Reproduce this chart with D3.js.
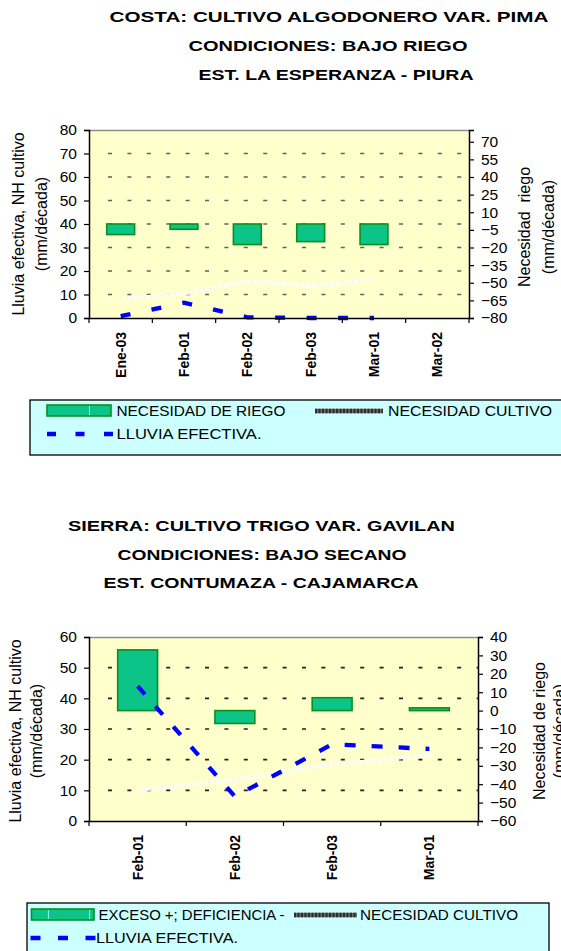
<!DOCTYPE html>
<html>
<head>
<meta charset="utf-8">
<script src="https://cdn.jsdelivr.net/npm/d3@7"></script>
<style>
  html, body { margin: 0; padding: 0; background: #ffffff; }
  svg { display: block; }
  text { font-family: "Liberation Sans", Arial, sans-serif; fill: #000; }
</style>
</head>
<body>
<svg id="chart" width="561" height="951"></svg>
<script>
// ---------- DATA ----------
// Chart 1 : Costa
const topTitle = ["COSTA: CULTIVO ALGODONERO VAR. PIMA", "CONDICIONES: BAJO RIEGO", "EST. LA ESPERANZA - PIURA"];
const topCategories = ["Ene-03", "Feb-01", "Feb-02", "Feb-03", "Mar-01", "Mar-02"];
const topRiego   = [-9, -4.5, -17.5, -15, -17.5, null];     // right axis (bars from 0)
const topCultivo = [8.3, 10.3, 15.8, 13.8, 16.5, null];     // left axis
const topLluvia  = [0.8, 6.5, 0.3, 0, 0, null];             // left axis
const topLeftTicks  = [0, 10, 20, 30, 40, 50, 60, 70, 80];
const topRightTicks = [-80, -65, -50, -35, -20, -5, 10, 25, 40, 55, 70];
const topLegend = ["NECESIDAD DE RIEGO", "NECESIDAD CULTIVO", "LLUVIA EFECTIVA."];
const topLeftTitle = ["Lluvia efectiva, NH cultivo", "(mm/década)"];
const topRightTitle = ["Necesidad  riego", "(mm/década)"];

// Chart 2 : Sierra
const botTitle = ["SIERRA: CULTIVO TRIGO VAR. GAVILAN", "CONDICIONES: BAJO SECANO", "EST. CONTUMAZA - CAJAMARCA"];
const botCategories = ["Feb-01", "Feb-02", "Feb-03", "Mar-01"];
const botRiego   = [33, -7, 7, 1.5];
const botCultivo = [10, 13.5, 18.5, 21.5];
const botLluvia  = [44, 8, 25, 23.5];
const botLeftTicks  = [0, 10, 20, 30, 40, 50, 60];
const botRightTicks = [-60, -50, -40, -30, -20, -10, 0, 10, 20, 30, 40];
const botLegend = ["EXCESO +; DEFICIENCIA -", "NECESIDAD CULTIVO", "LLUVIA EFECTIVA."];
const botLeftTitle = ["Lluvia efectiva, NH cultivo", "(mm/década)"];
const botRightTitle = ["Necesidad de riego", "(mm/década)"];

// ---------- STYLE ----------
const C = {
  plotBg: "#ffffcc", legendBg: "#ccffff",
  barFill: "#0cc487", barStroke: "#0a8f1e",
  blue: "#0000ff", cultivo: "#fdfdf3", grid: "#555555"
};
const FONT = '"Liberation Sans", Arial, sans-serif';

const svg = d3.select("#chart");

function drawChart(cfg) {
  const g = svg.append("g");
  const x = d3.scaleBand().domain(cfg.categories).range([cfg.x0, cfg.x1]).padding(0);
  const yL = d3.scaleLinear().domain(cfg.leftDomain).range([cfg.y1, cfg.y0]);
  const yR = d3.scaleLinear().domain(cfg.rightDomain).range([cfg.y1, cfg.y0]);
  const cx = c => x(c) + x.bandwidth() / 2;

  // titles
  cfg.title.forEach((t, i) => {
    g.append("text")
      .attr("x", cfg.titleX[i]).attr("y", cfg.titleY[i])
      .attr("text-anchor", "middle")
      .attr("textLength", cfg.titleW[i]).attr("lengthAdjust", "spacingAndGlyphs")
      .style("font-size", "15.5px").style("font-weight", "bold")
      .text(t);
  });

  // plot background
  g.append("rect").attr("x", cfg.x0).attr("y", cfg.y0)
    .attr("width", cfg.x1 - cfg.x0).attr("height", cfg.y1 - cfg.y0)
    .attr("fill", C.plotBg);
  // top border
  g.append("line").attr("x1", cfg.x0).attr("x2", cfg.x1).attr("y1", cfg.y0 + 0.5).attr("y2", cfg.y0 + 0.5)
    .attr("stroke", "#8c8c8c").attr("stroke-width", 1.5);

  // gridlines (dashed)
  const gridVals = cfg.leftTicks.filter(v => v > cfg.leftDomain[0] && v < cfg.leftDomain[1]);
  g.append("g").selectAll("line").data(gridVals).join("line")
    .attr("x1", cfg.x0 + 19).attr("x2", cfg.x1)
    .attr("y1", d => yL(d)).attr("y2", d => yL(d))
    .attr("stroke", cfg.gridColor).attr("stroke-width", 1.6)
    .attr("stroke-dasharray", "4 15.4");

  // NH cultivo line (whitish)
  const lineL = d3.line().defined(d => d.v != null).x(d => cx(d.c)).y(d => yL(d.v));
  const cultivoData = cfg.categories.map((c, i) => ({ c, v: cfg.cultivo[i] }));
  g.append("path").datum(cultivoData).attr("d", lineL)
    .attr("fill", "none").attr("stroke", C.cultivo).attr("stroke-width", 3.2);
  g.append("path").datum(cultivoData).attr("d", lineL)
    .attr("fill", "none").attr("stroke", "#e6e6d2").attr("stroke-width", 1)
    .attr("stroke-dasharray", "1 5");

  // bars (right axis, floating from 0)
  const bw = x.bandwidth() * cfg.barFrac;
  const barData = cfg.categories.map((c, i) => ({ c, v: cfg.riego[i] })).filter(d => d.v != null);
  g.append("g").selectAll("rect").data(barData).join("rect")
    .attr("x", d => cx(d.c) - bw / 2)
    .attr("width", bw)
    .attr("y", d => yR(Math.max(0, d.v)))
    .attr("height", d => Math.abs(yR(d.v) - yR(0)))
    .attr("fill", C.barFill).attr("stroke", C.barStroke).attr("stroke-width", 1.6);

  // lluvia efectiva (blue dashed)
  const lluviaData = cfg.categories.map((c, i) => ({ c, v: cfg.lluvia[i] }));
  g.append("path").datum(lluviaData).attr("d", lineL)
    .attr("fill", "none").attr("stroke", C.blue).attr("stroke-width", 4.3)
    .attr("stroke-dasharray", cfg.blueDash);

  // left axis
  const axL = g.append("g").attr("transform", `translate(${cfg.x0},0)`)
    .call(d3.axisLeft(yL).tickValues(cfg.leftTicks).tickSize(5).tickPadding(7).tickFormat(d3.format("d")));
  // right axis
  const axR = g.append("g").attr("transform", `translate(${cfg.x1},0)`)
    .call(d3.axisRight(yR).tickValues(cfg.rightTicks).tickSize(5).tickPadding(cfg.rightPad).tickFormat(d3.format("d")));
  [axL, axR].forEach(a => {
    a.selectAll("text").style("font-family", FONT).style("font-size", "15.5px").attr("fill", "#000");
    a.selectAll("line").attr("stroke", "#000").attr("stroke-width", 1.2);
    a.select(".domain").attr("stroke", "#000").attr("stroke-width", 1.5);
  });

  // bottom axis: domain line + ticks at band boundaries
  const axB = g.append("g").attr("transform", `translate(0,${cfg.y1})`)
    .call(d3.axisBottom(x).tickSize(0).tickFormat(""));
  axB.select(".domain").attr("stroke", "#000").attr("stroke-width", 1.5);
  const bounds = cfg.categories.map(c => x(c)).concat([cfg.x1]);
  g.append("g").selectAll("line").data(bounds).join("line")
    .attr("x1", d => d).attr("x2", d => d)
    .attr("y1", cfg.y1).attr("y2", cfg.y1 + 5)
    .attr("stroke", "#000").attr("stroke-width", 1.2);
  g.append("g").selectAll("text").data(cfg.categories).join("text")
    .attr("transform", d => `translate(${cx(d)},${cfg.y1 + 14}) rotate(-90)`)
    .attr("dy", "0.36em").attr("text-anchor", "end")
    .style("font-size", "14px").style("font-weight", "bold")
    .text(d => d);

  // axis titles
  cfg.leftTitle.forEach((t, i) => {
    g.append("text")
      .attr("transform", `translate(${cfg.leftTitleX[i]},${cfg.leftTitleY}) rotate(-90)`)
      .attr("text-anchor", "middle").attr("dy", "0.35em")
      .style("font-size", "16px").text(t);
  });
  cfg.rightTitle.forEach((t, i) => {
    g.append("text")
      .attr("transform", `translate(${cfg.rightTitleX[i]},${cfg.rightTitleY}) rotate(-90)`)
      .attr("text-anchor", "middle").attr("dy", "0.35em")
      .style("font-size", "16px").style("white-space", "pre").attr("xml:space", "preserve").text(t);
  });

  // legend
  const L = cfg.legend;
  g.append("rect").attr("x", L.x).attr("y", L.y).attr("width", L.w).attr("height", L.h)
    .attr("fill", C.legendBg).attr("stroke", "#000").attr("stroke-width", 1.3);
  // bar swatch
  g.append("rect").attr("x", L.sw1[0]).attr("y", L.row1 - 11).attr("width", L.sw1[1] - L.sw1[0]).attr("height", 11)
    .attr("fill", C.barFill).attr("stroke", C.barStroke).attr("stroke-width", 1.6);
  L.cyan.forEach(cxv => {
    g.append("line").attr("x1", cxv).attr("x2", cxv).attr("y1", L.row1 - 10).attr("y2", L.row1 - 1)
      .attr("stroke", "#7fffff").attr("stroke-width", 1);
  });
  // cultivo swatch
  g.append("line").attr("x1", L.sw2[0]).attr("x2", L.sw2[1]).attr("y1", L.row1 - 5).attr("y2", L.row1 - 5)
    .attr("stroke", "#6a6a6a").attr("stroke-width", 4.5);
  g.append("line").attr("x1", L.sw2[0]).attr("x2", L.sw2[1]).attr("y1", L.row1 - 5).attr("y2", L.row1 - 5)
    .attr("stroke", "#2e2e2e").attr("stroke-width", 4.5).attr("stroke-dasharray", "2 1.5");
  // blue swatch
  g.append("line").attr("x1", L.sw3[0]).attr("x2", L.sw3[1]).attr("y1", L.row2 - 5).attr("y2", L.row2 - 5)
    .attr("stroke", C.blue).attr("stroke-width", 4.5).attr("stroke-dasharray", L.blueDash);
  const lt = [
    [cfg.legendText[0], L.t1[0], L.row1, L.t1[1]],
    [cfg.legendText[1], L.t2[0], L.row1, L.t2[1]],
    [cfg.legendText[2], L.t3[0], L.row2, L.t3[1]]
  ];
  lt.forEach(([t, tx, ty, tw]) => {
    g.append("text").attr("x", tx).attr("y", ty)
      .attr("textLength", tw).attr("lengthAdjust", "spacingAndGlyphs")
      .style("font-size", "15px").text(t);
  });
}

drawChart({
  title: topTitle, titleX: [329, 328, 336], titleY: [22, 51, 80], titleW: [439, 279, 275],
  categories: topCategories, riego: topRiego, cultivo: topCultivo, lluvia: topLluvia,
  leftDomain: [0, 80], rightDomain: [-80, 80], leftTicks: topLeftTicks, rightTicks: topRightTicks,
  x0: 89, x1: 469, y0: 130, y1: 318, barFrac: 0.44, rightPad: 7,
  gridColor: "#606060", blueDash: "10 21.5",
  leftTitle: topLeftTitle, leftTitleX: [18, 41], leftTitleY: 224,
  rightTitle: topRightTitle, rightTitleX: [524, 548], rightTitleY: 227,
  legendText: topLegend,
  legend: { x: 30, y: 400, w: 540, h: 55, row1: 416, row2: 439,
            sw1: [47, 111], sw2: [315, 383], sw3: [47, 113], cyan: [89.5], blueDash: "9 19.5",
            t1: [116.5, 169], t2: [388, 164], t3: [116.5, 145] }
});

drawChart({
  title: botTitle, titleX: [261.5, 262, 261], titleY: [531, 560, 588], titleW: [387, 289, 315],
  categories: botCategories, riego: botRiego, cultivo: botCultivo, lluvia: botLluvia,
  leftDomain: [0, 60], rightDomain: [-60, 40], leftTicks: botLeftTicks, rightTicks: botRightTicks,
  x0: 89, x1: 478, y0: 637, y1: 821, barFrac: 0.41, rightPad: 7,
  gridColor: "#222222", blueDash: "11 16",
  leftTitle: botLeftTitle, leftTitleX: [15.5, 36], leftTitleY: 731,
  rightTitle: botRightTitle, rightTitleX: [539, 559], rightTitleY: 731,
  legendText: botLegend,
  legend: { x: 27, y: 903, w: 522, h: 60, row1: 920, row2: 943,
            sw1: [31.5, 94], sw2: [294, 357], sw3: [30.5, 95.5], cyan: [48.4, 89.6], blueDash: "10 17.5",
            t1: [98.6, 186], t2: [360, 158], t3: [96, 142] }
});
</script>
</body>
</html>
